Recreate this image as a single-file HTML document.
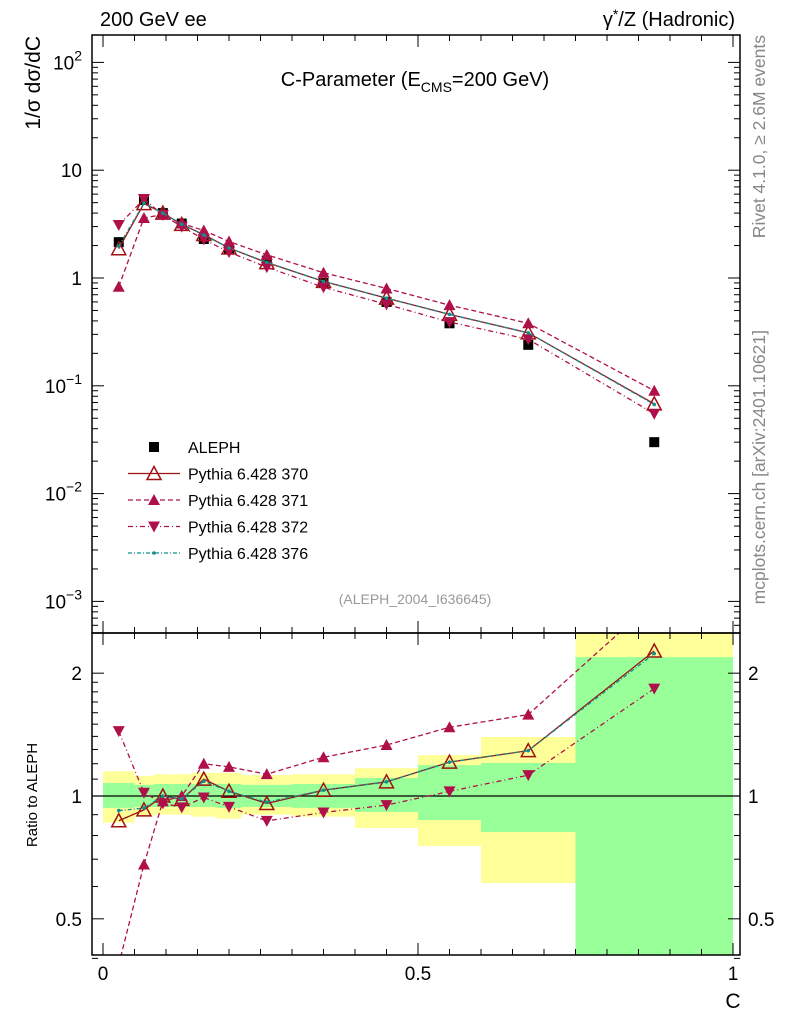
<!DOCTYPE html>
<html><head><meta charset="utf-8"><style>
body{margin:0;background:#fff}
svg{display:block;font-family:"Liberation Sans",sans-serif}
</style></head><body>
<svg id="c" width="786" height="1024" viewBox="0 0 786 1024"></svg>
<script>
const xs=[0.025,0.065,0.095,0.125,0.16,0.2,0.26,0.35,0.45,0.55,0.675,0.875];
const edges=[0,0.05,0.08,0.11,0.14,0.18,0.22,0.30,0.40,0.50,0.60,0.75,1.0];
const aleph=[2.15,5.3,4.0,3.2,2.3,1.85,1.45,0.9,0.6,0.38,0.24,0.03];
const p370=[1.87,4.9,4.0,3.14,2.53,1.9,1.39,0.93,0.65,0.46,0.31,0.068];
const p371=[0.83,3.6,3.88,3.2,2.76,2.18,1.64,1.12,0.8,0.56,0.38,0.09];
const p372=[3.1,5.4,3.84,3.0,2.28,1.74,1.26,0.82,0.57,0.39,0.27,0.055];
const p376=[1.98,4.95,4.0,3.15,2.5,1.9,1.4,0.93,0.65,0.46,0.31,0.067];
const yelLo=[0.86,0.89,0.90,0.90,0.89,0.88,0.90,0.89,0.835,0.754,0.612,0.3];
const yelHi=[1.15,1.12,1.13,1.13,1.14,1.14,1.125,1.13,1.17,1.26,1.395,3];
const grnLo=[0.935,0.94,0.94,0.94,0.94,0.935,0.94,0.935,0.914,0.873,0.816,0.3];
const grnHi=[1.076,1.065,1.07,1.07,1.07,1.07,1.065,1.07,1.107,1.19,1.205,2.19];
const xTicks=[0,0.5,1];
const yTicks=[{v:100,t:"10",e:"2"},{v:10,t:"10",e:""},{v:1,t:"1",e:""},{v:0.1,t:"10",e:"−1"},{v:0.01,t:"10",e:"−2"},{v:0.001,t:"10",e:"−3"}];
const rTicks=[{v:0.5,t:"0.5"},{v:1,t:"1"},{v:2,t:"2"}];

const NS="http://www.w3.org/2000/svg",svg=document.getElementById('c');
const L=92,R=740,T=35,M=633,B=955;
const X=v=>103+v*630;
const Y=v=>278-Math.log10(v)*107.8;
const RY=v=>796-Math.log10(v)*408;
function el(tag,a,parent,txt){const e=document.createElementNS(NS,tag);for(const k in a)e.setAttribute(k,a[k]);if(txt!=null)e.textContent=txt;(parent||svg).appendChild(e);return e;}
const defs=el('defs',{});
const c1=el('clipPath',{id:'cm'},defs);el('rect',{x:L,y:T,width:R-L,height:M-T},c1);
const c2=el('clipPath',{id:'cr'},defs);el('rect',{x:L,y:M,width:R-L,height:B-M},c2);
const gb=el('g',{'clip-path':'url(#cr)'});

for(let i=0;i<xs.length;i++){
 const x0=X(edges[i]),x1=X(edges[i+1]);
 const yb=el('rect',{x:x0,y:RY(yelHi[i]),width:x1-x0,height:RY(yelLo[i])-RY(yelHi[i]),fill:'#ffff99'},gb);
 
 const g=el('rect',{x:x0,y:RY(grnHi[i]),width:x1-x0,height:RY(grnLo[i])-RY(grnHi[i]),fill:'#99ff99'},gb);
 
}
el('line',{x1:L,x2:R,y1:RY(1),y2:RY(1),stroke:'#000','stroke-width':1.2});
function marker(g,type,x,y,col,s){
 s=s||1;
 if(type=='sq') el('rect',{x:x-5*s,y:y-5*s,width:10*s,height:10*s,fill:'#000'},g);
 else if(type=='tri-o') el('polygon',{points:`${x},${y-7} ${x-7},${y+6} ${x+7},${y+6}`,fill:'none',stroke:col,'stroke-width':1.5},g);
 else if(type=='tri') el('polygon',{points:`${x},${y-6} ${x-6},${y+5} ${x+6},${y+5}`,fill:col},g);
 else if(type=='tri-d') el('polygon',{points:`${x},${y+6} ${x-6},${y-5} ${x+6},${y-5}`,fill:col},g);
 else if(type=='dot') el('circle',{cx:x,cy:y,r:1.8,fill:col},g);
}
const series=[
 {n:'pythia-370',d:p370,col:'#a01010',dash:'',m:'tri-o',w:1.3},
 {n:'pythia-371',d:p371,col:'#b0104a',dash:'5,3',m:'tri',w:1.3},
 {n:'pythia-372',d:p372,col:'#b0104a',dash:'5,3,1,3',m:'tri-d',w:1.3},
 {n:'pythia-376',d:p376,col:'#109090',dash:'4,2,1,2',m:'dot',w:1.3}];
function draw(clip,yf,ratio){
 const g=el('g',{'clip-path':`url(#${clip})`});
 
 if(!ratio){const ga=el('g',{},g);
  for(let i=0;i<xs.length;i++)marker(ga,'sq',X(xs[i]),yf(aleph[i]));}
 for(const s of series){
  const gs=el('g',{},g);
  const vals=s.d.map((v,i)=>ratio?v/aleph[i]:v);
  el('polyline',{points:vals.map((v,i)=>X(xs[i])+','+yf(v)).join(' '),fill:'none',stroke:s.col,'stroke-width':s.w,'stroke-dasharray':s.dash},gs);
  vals.forEach((v,i)=>marker(gs,s.m,X(xs[i]),yf(v),s.col));
 }
}
draw('cm',Y,false);draw('cr',RY,true);
el('rect',{x:L,y:T,width:R-L,height:M-T,fill:'none',stroke:'#000','stroke-width':1.5});
el('rect',{x:L,y:M,width:R-L,height:B-M,fill:'none',stroke:'#000','stroke-width':1.5});
for(let v=0;v<=1.0001;v+=0.05){const big=Math.abs(v*2-Math.round(v*2))<1e-6;const x=X(v),len=big?12:6;
 for(const [a,b] of [[T,M],[M,B]]){el('line',{x1:x,x2:x,y1:a,y2:a+len,stroke:'#000'});el('line',{x1:x,x2:x,y1:b,y2:b-len,stroke:'#000'});}}
xTicks.forEach(v=>{const t=el('text',{x:X(v),y:980,'font-size':19,'text-anchor':'middle'},null,String(v));});
el('text',{x:733,y:1008,'font-size':21,'text-anchor':'middle',},null,'C');
for(let e=-4;e<=2;e++)for(let k=1;k<10;k++){const v=k*Math.pow(10,e),y=Y(v);if(y<T||y>M)continue;const len=k==1?12:6;
 el('line',{x1:L,x2:L+len,y1:y,y2:y,stroke:'#000'});el('line',{x1:R,x2:R-len,y1:y,y2:y,stroke:'#000'});}
yTicks.forEach(t=>{const tx=el('text',{x:82,y:Y(t.v)+7,'font-size':19,'text-anchor':'end'});
 if(t.e){el('tspan',{},tx,t.t);el('tspan',{dy:-9,'font-size':14},tx,t.e);} else tx.textContent=t.t;});
for(const v of [0.4,0.5,0.6,0.7,0.8,0.9,1,2]){const y=RY(v);const len=(v==0.5||v==1||v==2)?12:6;
 el('line',{x1:L,x2:L+len,y1:y,y2:y,stroke:'#000'});el('line',{x1:R,x2:R-len,y1:y,y2:y,stroke:'#000'});}
for(let v=1.1;v<2;v+=0.1){const y=RY(v);el('line',{x1:L,x2:L+6,y1:y,y2:y,stroke:'#000'});el('line',{x1:R,x2:R-6,y1:y,y2:y,stroke:'#000'});}
rTicks.forEach(t=>{const y=RY(t.v)+7;
 const a=el('text',{x:82,y:y,'font-size':19,'text-anchor':'end'},null,t.t);
 const b=el('text',{x:748,y:y,'font-size':19},null,t.t);});
el('text',{x:100,y:26,'font-size':20,},null,'200 GeV ee');
const hr=el('text',{x:735,y:26,'font-size':20,'text-anchor':'end',});
el('tspan',{},hr,'γ');el('tspan',{dy:-7,'font-size':14},hr,'*');el('tspan',{dy:7},hr,'/Z (Hadronic)');
const tt=el('text',{x:415,y:86,'font-size':20,'text-anchor':'middle',});
el('tspan',{},tt,'C-Parameter (E');el('tspan',{dy:6,'font-size':14},tt,'CMS');el('tspan',{dy:-6},tt,'=200 GeV)');
el('text',{x:0,y:0,'font-size':21,'text-anchor':'end',transform:'translate(40,36) rotate(-90)',},null,'1/σ   dσ/dC');
el('text',{x:0,y:0,'font-size':15,'text-anchor':'middle',transform:'translate(37,795) rotate(-90)',},null,'Ratio to ALEPH');
el('text',{x:0,y:0,'font-size':17.5,fill:'#888','text-anchor':'end',transform:'translate(765,35) rotate(-90)',},null,'Rivet 4.1.0, ≥ 2.6M events');
el('text',{x:0,y:0,'font-size':17.5,fill:'#888','text-anchor':'end',transform:'translate(765,330) rotate(-90)',},null,'mcplots.cern.ch [arXiv:2401.10621]');
el('text',{x:415,y:604,'font-size':14,fill:'#999','text-anchor':'middle',},null,'(ALEPH_2004_I636645)');
const lg=el('g',{});
const le=[{t:'ALEPH',m:'sq'}].concat(series.map(s=>({t:'Pythia 6.428 '+s.n.slice(-3),s})));
le.forEach((e,i)=>{const y=447+i*26.5;const g=el('g',{},lg);
 if(e.m)marker(g,'sq',154,y);
 else{el('line',{x1:128,x2:180,y1:y,y2:y,stroke:e.s.col,'stroke-width':1.3,'stroke-dasharray':e.s.dash},g);marker(g,e.s.m,154,y,e.s.col);}
 el('text',{x:188,y:y+6,'font-size':16},g,e.t);});
</script>
</body></html>
